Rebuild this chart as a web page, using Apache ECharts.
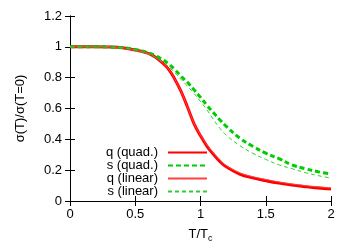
<!DOCTYPE html>
<html><head><meta charset="utf-8">
<script src="https://cdn.jsdelivr.net/npm/echarts@6/dist/echarts.min.js"></script>
<style>html,body{margin:0;padding:0;background:#fff}#c{width:354px;height:248px}</style>
</head><body><div id="c"></div>
<script>
var xs    = [0,0.1,0.2,0.3,0.4,0.5,0.6,0.65,0.7,0.75,0.8,0.85,0.9,0.95,1.0,1.05,1.1,1.15,1.2,1.3,1.4,1.5,1.6,1.7,1.8,1.9,2.0];
var qQuad = [1,1,1,0.999,0.994,0.98,0.958,0.935,0.902,0.86,0.795,0.712,0.61,0.502,0.423,0.355,0.302,0.255,0.22,0.175,0.15,0.132,0.116,0.103,0.093,0.084,0.077];
var sQuad = [1,1,1,0.999,0.995,0.983,0.962,0.945,0.922,0.893,0.855,0.81,0.77,0.722,0.672,0.62,0.572,0.525,0.482,0.408,0.355,0.31,0.275,0.235,0.21,0.19,0.175];
var qLin  = [1,1,1,0.999,0.994,0.98,0.958,0.935,0.902,0.86,0.795,0.712,0.61,0.504,0.428,0.362,0.31,0.263,0.228,0.183,0.158,0.14,0.124,0.111,0.1,0.092,0.085];
var sLin  = [1,1,1,0.999,0.993,0.979,0.953,0.933,0.908,0.875,0.835,0.79,0.745,0.697,0.645,0.59,0.528,0.47,0.425,0.36,0.31,0.27,0.235,0.21,0.185,0.165,0.148];
var names = ['q (quad.)','s (quad.)','q (linear)','s (linear)'];
var yTicks = [0,0.2,0.4,0.6,0.8,1,1.2];
var xTicks = [0,0.5,1,1.5,2];

function pairs(ys){ return xs.map(function(x,i){ return [x, ys[i]]; }); }
var FONT = 'Liberation Sans';
var chart = echarts.init(document.getElementById('c'), null, {renderer:'canvas'});
var axisLine = {show:true, lineStyle:{color:'#000', width:1}};
chart.setOption({
  animation:false,
  textStyle:{fontFamily:FONT},
  grid:{left:70, right:23, top:16, bottom:42},
  legend:{
    orient:'vertical', align:'right', right:146, top:146, padding:0,
    itemWidth:39, itemHeight:10, itemGap:0,
    itemStyle:{opacity:0},
    textStyle:{fontFamily:FONT, fontSize:13, color:'#000', lineHeight:12.7, padding:[0,5,0,0]},
    data:names
  },
  xAxis:[{
    type:'value', min:xTicks[0], max:xTicks[xTicks.length-1], interval:0.5,
    name:'T/T{s|c}', nameLocation:'middle', nameGap:25,
    nameTextStyle:{fontFamily:FONT, fontSize:13, color:'#000', rich:{s:{fontSize:9, verticalAlign:'bottom', padding:[8,0,0,0], fontFamily:FONT, color:'#000'}}},
    axisLine:axisLine, axisTick:{inside:true, length:5, lineStyle:{color:'#000'}},
    axisLabel:{fontFamily:FONT, fontSize:13, color:'#000', margin:7},
    splitLine:{show:false}
  },{
    type:'value', position:'top', min:0, max:2, interval:0.5,
    axisLine:axisLine, axisTick:{inside:true, length:5, lineStyle:{color:'#000'}},
    axisLabel:{show:false}, splitLine:{show:false}
  }],
  yAxis:[{
    type:'value', min:yTicks[0], max:yTicks[yTicks.length-1], interval:0.2,
    name:'σ(T)/σ(T=0)', nameLocation:'middle', nameGap:43, nameRotate:90,
    nameTextStyle:{fontFamily:FONT, fontSize:13, color:'#000'},
    axisLine:axisLine, axisTick:{inside:true, length:5, lineStyle:{color:'#000'}},
    axisLabel:{fontFamily:FONT, fontSize:13, color:'#000', margin:8},
    splitLine:{show:false}
  },{
    type:'value', position:'right', min:0, max:1.2, interval:0.2,
    axisLine:axisLine, axisTick:{inside:true, length:5, lineStyle:{color:'#000'}},
    axisLabel:{show:false}, splitLine:{show:false}
  }],
  series:[
    {name:names[0], type:'line', data:pairs(qQuad), smooth:0.4, symbol:'none',
     lineStyle:{color:'#ff0000', width:3}, itemStyle:{color:'#ff0000'}, z:3},
    {name:names[1], type:'line', data:pairs(sQuad), smooth:0.4, symbol:'none',
     lineStyle:{color:'#00cc00', width:3, type:[5,3]}, itemStyle:{color:'#00cc00'}, z:3},
    {name:names[2], type:'line', data:pairs(qLin), smooth:0.4, symbol:'none',
     lineStyle:{color:'#ff4040', width:1}, itemStyle:{color:'#ff4040'}, z:4},
    {name:names[3], type:'line', data:pairs(sLin), smooth:0.4, symbol:'none',
     lineStyle:{color:'#33cc33', width:1, type:[4,3]}, itemStyle:{color:'#33cc33'}, z:4}
  ]
});
</script></body></html>
